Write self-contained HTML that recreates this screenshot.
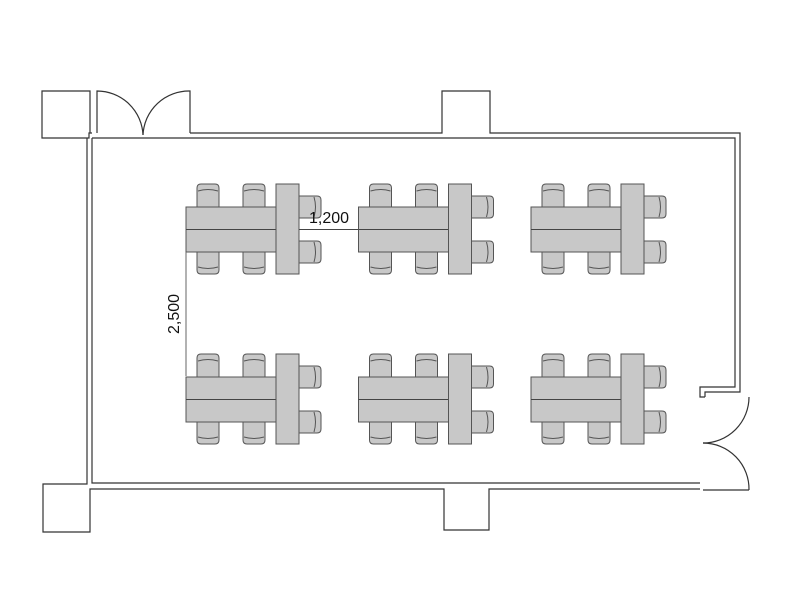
<!DOCTYPE html>
<html><head><meta charset="utf-8"><style>body{margin:0;background:#fff}svg{display:block}</style></head>
<body>
<svg width="800" height="600" viewBox="0 0 800 600" xmlns="http://www.w3.org/2000/svg">
<defs>
<g id="ct">
<path d="M0,23 V4 Q0,0 4,0 H18 Q22,0 22,4 V23 Z" fill="#c8c8c8" stroke="#555" stroke-width="1"/>
<path d="M1,7 Q11,4 21,7" fill="none" stroke="#555" stroke-width="1"/>
</g>
<g id="grp">
<use href="#ct" x="197" y="184"/>
<use href="#ct" x="243" y="184"/>
<use href="#ct" transform="translate(219,274) rotate(180)"/>
<use href="#ct" transform="translate(265,274) rotate(180)"/>
<use href="#ct" transform="translate(321,196) rotate(90)"/>
<use href="#ct" transform="translate(321,241) rotate(90)"/>
<rect x="186" y="207" width="90" height="45" fill="#c8c8c8" stroke="#555"/>
<line x1="186" y1="229.5" x2="276" y2="229.5" stroke="#444"/>
<rect x="276" y="184" width="23" height="90" fill="#c8c8c8" stroke="#555"/>
</g>
</defs>
<g fill="none" stroke="#333" stroke-width="1.2">
<!-- top-left pillar -->
<path d="M92,133 H89 V138 H42 V91 H90 V133"/>
<!-- top left door -->
<path d="M97,133 V91 A46,46 0 0 1 143,135"/>
<path d="M190,133 V91 A46,46 0 0 0 143,135"/>
<!-- top wall -->
<path d="M190,133 H442 V91 H490 V133 H740 V392 H705 V397"/>
<path d="M92,138 H735 V387 H700 V397 H705"/>
<!-- left wall -->
<path d="M87,138 V484 H43 V532 H90 V489 H444 V530 H489 V489 H700"/>
<path d="M92,138 V483 H700"/>
<!-- right door -->
<path d="M703,443 A46,46 0 0 0 749,397"/>
<path d="M703,443 A46,46 0 0 1 749,490"/>
<path d="M703,490 H749"/>
</g>
<use href="#grp"/>
<use href="#grp" x="172.5"/>
<use href="#grp" x="345"/>
<use href="#grp" y="170"/>
<use href="#grp" x="172.5" y="170"/>
<use href="#grp" x="345" y="170"/>
<line x1="186" y1="252" x2="186" y2="376" stroke="#666"/>
<line x1="299" y1="229.5" x2="358" y2="229.5" stroke="#444"/>
<text x="329" y="223" font-family="Liberation Sans, sans-serif" font-size="16" text-anchor="middle" fill="#111">1,200</text>
<text transform="translate(179,314) rotate(-90)" font-family="Liberation Sans, sans-serif" font-size="16" text-anchor="middle" fill="#111">2,500</text>
</svg>
</body></html>
